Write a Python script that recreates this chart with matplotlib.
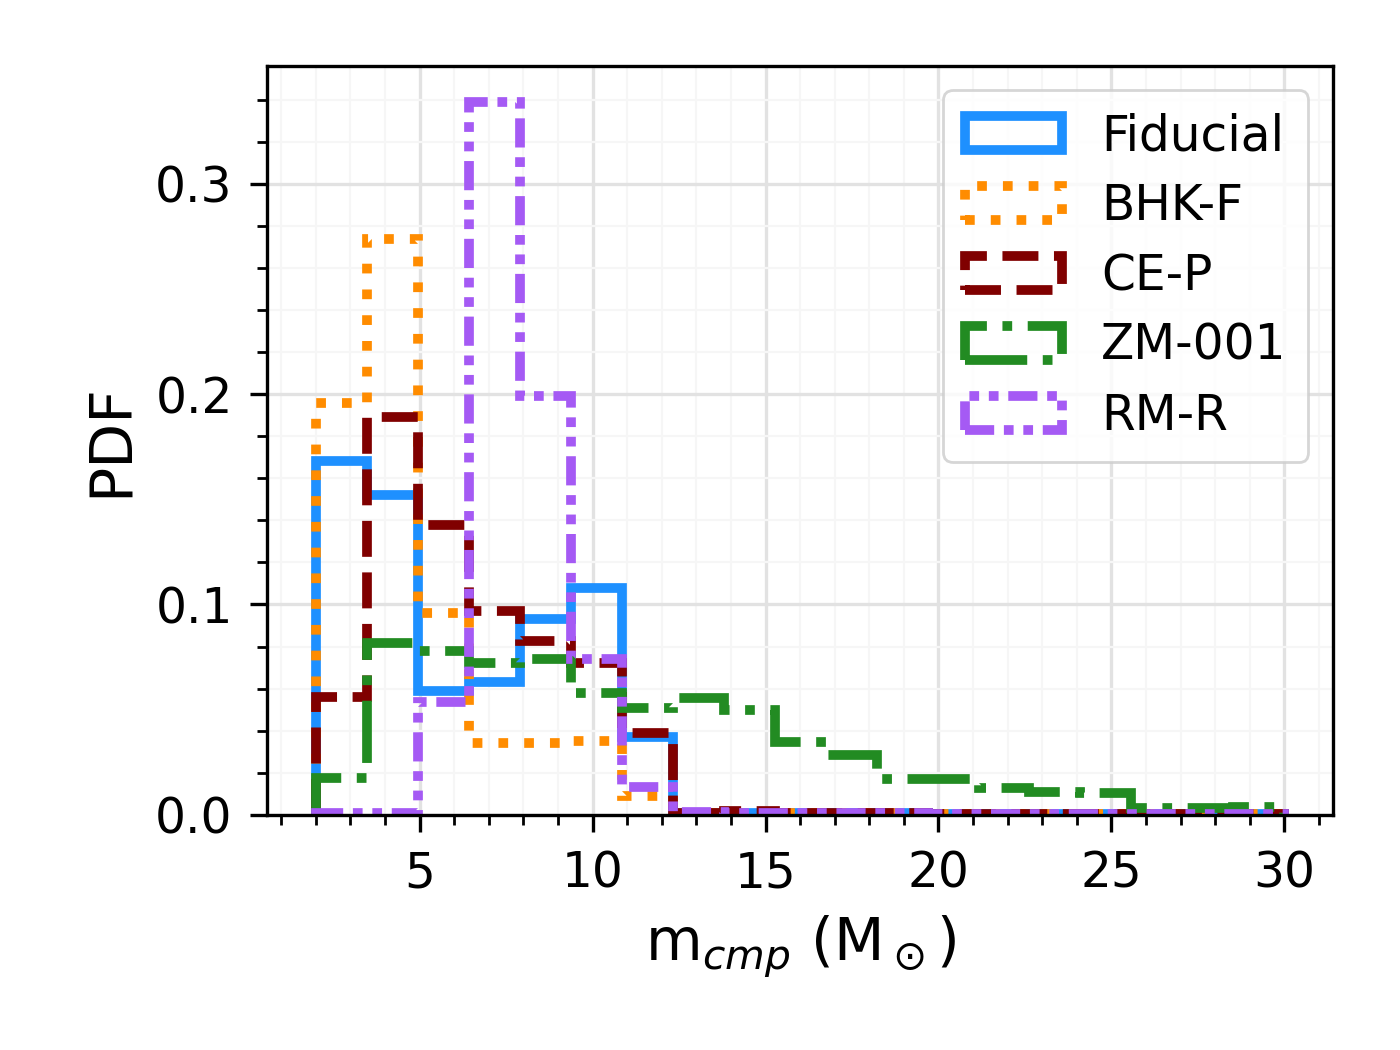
import numpy as np
import matplotlib
matplotlib.use('Agg')
import matplotlib.pyplot as plt
from matplotlib.ticker import MultipleLocator

# bin edges of the mass histogram (Msun)
edges = np.linspace(2, 30, 20)

fiducial = [0.168, 0.152, 0.059, 0.063, 0.093, 0.108, 0.037, 0.001, 0.001, 0.001,
            0.0008, 0.0008, 0.0006, 0.0005, 0.0005, 0.0004, 0.0004, 0.0003, 0.0003]
bhkf = [0.196, 0.274, 0.096, 0.034, 0.034, 0.035, 0.009, 0.001, 0.001, 0.001,
        0.0008, 0.0008, 0.0006, 0.0006, 0.0005, 0.0004, 0.0004, 0.0003, 0.0003]
cep = [0.056, 0.189, 0.138, 0.097, 0.0825, 0.072, 0.039, 0.001, 0.002, 0.001,
       0.001, 0.0008, 0.0006, 0.0005, 0.0005, 0.0004, 0.0004, 0.0003, 0.0003]
zm001 = [0.0175, 0.0815, 0.078, 0.072, 0.074, 0.058, 0.051, 0.0555, 0.050, 0.0346,
         0.0285, 0.017, 0.017, 0.0128, 0.011, 0.0104, 0.0033, 0.0033, 0.0038]
rmr = [0.001, 0.001, 0.0535, 0.339, 0.199, 0.074, 0.0133, 0.0014, 0.001, 0.001,
       0.0008, 0.0008, 0.0006, 0.0005, 0.0005, 0.0004, 0.0004, 0.0003, 0.0003]

labels = ['Fiducial', 'BHK-F', 'CE-P', 'ZM-001', 'RM-R']
series = [fiducial, bhkf, cep, zm001, rmr]
colors = ['#1e90ff', '#ff8c00', '#800000', '#228b22', '#a55af4']
styles = ['-', ':', '--', '-.', (0, (3, 1, 1, 1, 1, 1))]

plt.rcParams['axes.linewidth'] = 1.2

fig = plt.figure(figsize=(7, 5.25), dpi=200)
ax = fig.add_axes([0.191, 0.224, 0.761, 0.713])

centers = 0.5 * (edges[:-1] + edges[1:])
for vals, lab, col, ls in zip(series, labels, colors, styles):
    ax.hist(centers, bins=edges, weights=vals, histtype='step', color=col,
            linestyle=ls, linewidth=3.5, label=lab)

ax.set_ylim(bottom=0)
ax.xaxis.set_major_locator(MultipleLocator(5))
ax.xaxis.set_minor_locator(MultipleLocator(1))
ax.yaxis.set_major_locator(MultipleLocator(0.1))
ax.yaxis.set_minor_locator(MultipleLocator(0.02))
ax.grid(which='major', color='#e2e2e2', linewidth=1.2)
ax.grid(which='minor', color='#f6f6f6', linewidth=0.8)
ax.set_axisbelow(True)

ax.tick_params(which='major', labelsize=17.5, length=6, width=1.2, pad=6.5)
ax.tick_params(which='minor', length=3.5, width=1.0)

ax.set_xlabel(r'm$_{cmp}$ (M$_\odot$)', fontsize=21, labelpad=6)
ax.set_ylabel('PDF', fontsize=21, labelpad=6)

ax.legend(loc='upper right', fontsize=17.5, handlelength=2.0, labelspacing=0.45,
          borderpad=0.45)

fig.savefig('out.png', dpi=200)
